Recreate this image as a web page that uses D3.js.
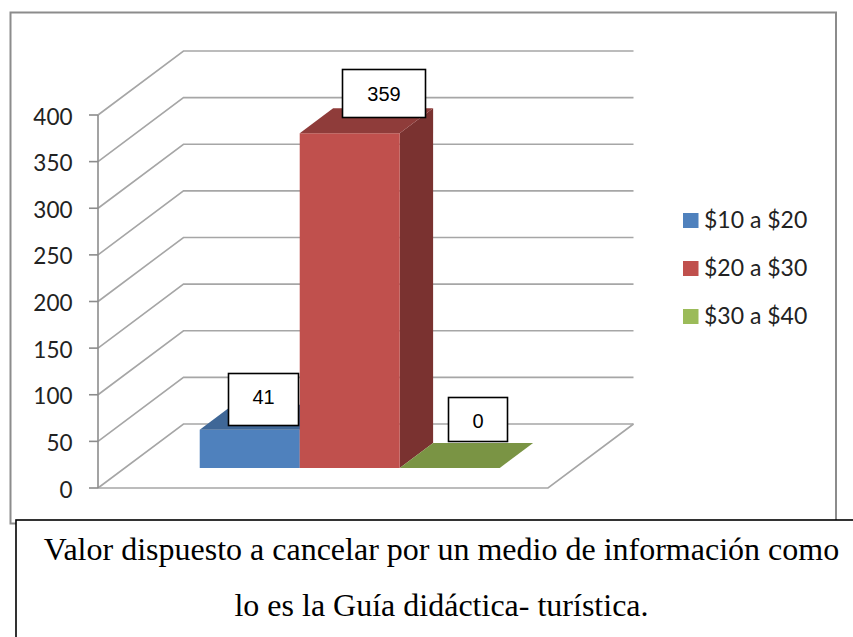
<!DOCTYPE html>
<html><head><meta charset="utf-8">
<style>html,body{margin:0;padding:0;background:#fff}svg{display:block}</style>
<script src="https://cdn.jsdelivr.net/npm/d3@7/dist/d3.min.js"></script>
</head><body><svg id="c" width="853" height="637"></svg>
<script>
const seriesNames = ["$10 a $20","$20 a $30","$30 a $40"];
const seriesValues = [41,359,0];
const seriesColors = ["#4F81BD","#C0504D","#9BBB59"];
const topColors = ["#3F6797","#8F3C3A","#7A9444"];
const sideColors = ["#345479","#7A3230","#617636"];
const yTicks = [0,50,100,150,200,250,300,350,400];
const captionLines = ["Valor dispuesto a cancelar por un medio de información como","lo es la Guía didáctica- turística."];

const svg = d3.select("#c");
const grid="#A6A6A6", axisC="#8C8C8C";
const y = d3.scaleLinear().domain([0,400]).range([488,115]);
const x = d3.scaleBand().domain(seriesNames).range([98,548]).paddingInner(0).paddingOuter(0.75);
const dx = d3.scaleLinear().domain([0,1]).range([0,85.5]);
const dy = d3.scaleLinear().domain([0,1]).range([0,-64]);
const P = (px,v,t)=>[px+dx(t), y(v)+dy(t)];
const line = d3.line();
const labelLayout = [{x:228,y:373,w:70,h:52,base:404},{x:342,y:69,w:83,h:48,base:101},{x:448,y:397,w:59,h:44,base:428}];

// chart frame
svg.append("rect").attr("x",10.5).attr("y",12.5).attr("width",825.5).attr("height",511)
  .attr("fill","#fff").attr("stroke","#8C8C8C").attr("stroke-width",2);

// gridlines: side wall and back wall
const g = svg.append("g").attr("fill","none").attr("stroke",grid).attr("stroke-width",1.6);
yTicks.forEach(v=>{
  g.append("path").attr("d",line([P(98,v,0),P(98,v,1),P(548,v,1)]));
});
// floor
g.append("path").attr("d",line([P(98,0,0),P(548,0,0),P(548,0,1)]));
// axis
const ax = svg.append("g").attr("stroke",axisC).attr("stroke-width",1.6);
ax.append("line").attr("x1",98).attr("x2",98).attr("y1",y(400)).attr("y2",y(0));
yTicks.forEach(v=>ax.append("line").attr("x1",89).attr("x2",98).attr("y1",y(v)).attr("y2",y(v)));
svg.append("g").selectAll("text").data(yTicks).join("text")
  .attr("x",72.5).attr("y",d=>y(d)+9.5).attr("text-anchor","end")
  .attr("font-family","Lato").attr("font-size",22.5).attr("fill","#222").text(d=>d);

// bars
const t0=0.3125,t1=0.703;
seriesNames.forEach((s,i)=>{
  const v=seriesValues[i], a=x(s), b=a+x.bandwidth();
  const bar=svg.append("g");
  if(v>0){
    bar.append("path").attr("fill",sideColors[i]).attr("d",line([P(b,0,t0),P(b,0,t1),P(b,v,t1),P(b,v,t0)])+"Z");
    bar.append("path").attr("fill",seriesColors[i]).attr("d",line([P(a,0,t0),P(b,0,t0),P(b,v,t0),P(a,v,t0)])+"Z");
  }
  bar.append("path").attr("fill",topColors[i]).attr("d",line([P(a,v,t0),P(b,v,t0),P(b,v,t1),P(a,v,t1)])+"Z");
});

// value labels
labelLayout.forEach((r,i)=>{
  svg.append("rect").attr("x",r.x+.5).attr("y",r.y+.5).attr("width",r.w).attr("height",r.h)
    .attr("fill","#fff").attr("stroke","#000").attr("stroke-width",1.6);
  svg.append("text").attr("x",r.x+r.w/2+.5).attr("y",r.base).attr("text-anchor","middle")
    .attr("font-family","Liberation Sans").attr("font-size",20).attr("fill","#000").text(seriesValues[i]);
});

// legend
const ly=d3.scalePoint().domain(seriesNames).range([220.5,316.5]);
seriesNames.forEach((s,i)=>{
  svg.append("rect").attr("x",683).attr("y",ly(s)-7.5).attr("width",15.5).attr("height",15).attr("fill",seriesColors[i]);
  svg.append("text").attr("x",704).attr("y",ly(s)+7.5)
    .attr("font-family","Lato").attr("font-size",23).attr("fill","#222").text(s);
});

// caption
svg.append("rect").attr("x",16).attr("y",520).attr("width",850).attr("height",140)
  .attr("fill","#fff").attr("stroke","#000").attr("stroke-width",1.6);
captionLines.forEach((t,i)=>{
  svg.append("text").attr("x",441.5).attr("y",i?616:560).attr("text-anchor","middle")
    .attr("font-family","Liberation Serif").attr("font-size",32).attr("fill","#000").text(t);
});
</script></body></html>
